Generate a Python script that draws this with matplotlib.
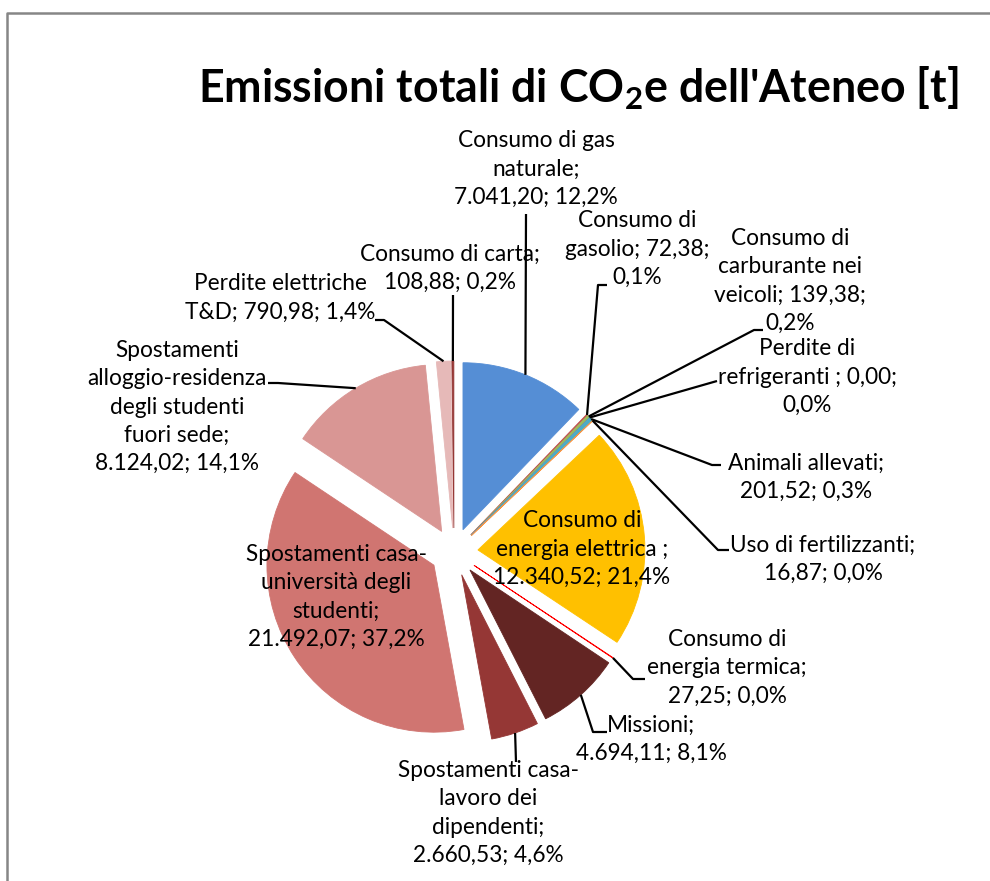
import re
import matplotlib
matplotlib.use('Agg')
import matplotlib.pyplot as plt
import numpy as np

plt.rcParams['font.family'] = ['Lato', 'DejaVu Sans']
plt.rcParams['mathtext.fontset'] = 'custom'
plt.rcParams['mathtext.rm'] = 'Lato'
plt.rcParams['mathtext.bf'] = 'Lato:bold'

W, H = 990, 881

# data
categories = ['Consumo di gas naturale', 'Consumo di gasolio',
              'Consumo di carburante nei veicoli', 'Perdite di refrigeranti ',
              'Animali allevati', 'Uso di fertilizzanti',
              'Consumo di energia elettrica ', 'Consumo di energia termica',
              'Missioni', 'Spostamenti casa-lavoro dei dipendenti',
              'Spostamenti casa-università degli studenti',
              'Spostamenti alloggio-residenza degli studenti fuori sede',
              'Perdite elettriche T&D', 'Consumo di carta']
values = [7041.20, 72.38, 139.38, 0.00, 201.52, 16.87, 12340.52, 27.25,
          4694.11, 2660.53, 21492.07, 8124.02, 790.98, 108.88]
colors = ['#558ED5', '#C0504D', '#9BBB59', '#8064A2', '#4BACC6', '#F79646',
          '#FFC000', '#FF0000', '#632523', '#953735', '#D07571', '#D99694',
          '#E6B9B8', '#953735']
title = "Emissioni totali di CO$_{\\mathbf{2}}$e dell'Ateneo [t]"

# layout (image pixel coords, y from top)
pie_center = (454, 552)
pie_radius = 167
explode_px = 24
tokens_per_line = [[3, 1, 2], [2, 2, 1], [2, 2, 2, 1], [2, 3, 1], [2, 2], [3, 2],
                   [2, 3, 2], [2, 2, 2], [1, 2], [2, 2, 1, 2], [2, 2, 1, 2],
                   [1, 2, 2, 2, 2], [2, 3], [3, 2]]
label_pos = [(536, 169), (637, 249), (790, 281), (807, 377), (806, 477),
             (823, 559), (582, 549), (727, 668), (651, 739), (488, 813),
             (336, 597), (177, 407), (280, 298), (450, 268)]
leaders = [[(526, 214)], [(598, 285), (607, 285)], [(754, 330), (763, 330)],
           [(717, 381)], [(712, 465), (721, 465)], [(718, 550), (729, 550)],
           None, [(633, 679), (645, 679)], [(593, 732), (607, 732)],
           [(516, 762)], None, [(278, 383), (268, 383)],
           [(384, 320), (375, 320)], [(453, 295)]]


def it_num(v):
    s = f"{v:,.2f}"
    return s.replace(',', 'X').replace('.', ',').replace('X', '.')


def make_label(name, v, total, counts):
    pct = f"{100 * v / total:.1f}".replace('.', ',') + '%'
    full = f"{name}; {it_num(v)}; {pct}"
    toks = re.findall(r'[^\s-]+-?', full)
    lines, k = [], 0
    for c in counts:
        line = ''
        for t in toks[k:k + c]:
            if line and not line.endswith('-'):
                line += ' '
            line += t
        lines.append(line)
        k += c
    return '\n'.join(lines)


fig = plt.figure(figsize=(W / 100, H / 100), dpi=100)
ax = fig.add_axes([0, 0, 1, 1])

wedges, _ = ax.pie(values, explode=[explode_px] * len(values), radius=pie_radius,
                   center=(pie_center[0], H - pie_center[1]), startangle=90,
                   counterclock=False, colors=colors,
                   wedgeprops=dict(linewidth=0.6))
for w in wedges:
    w.set_edgecolor(w.get_facecolor())

ax.set_xlim(0, W)
ax.set_ylim(0, H)
ax.set_aspect('equal')
ax.axis('off')

total = sum(values)
for i, w in enumerate(wedges):
    txt = make_label(categories[i], values[i], total, tokens_per_line[i])
    lx, ly = label_pos[i]
    ax.text(lx, H - ly, txt, ha='center', va='center', multialignment='center',
            fontsize=16.3, linespacing=1.42, color='black')
    if leaders[i] is not None:
        th = np.radians((w.theta1 + w.theta2) / 2)
        px = w.center[0] + w.r * np.cos(th)
        py = w.center[1] + w.r * np.sin(th)
        xs = [px] + [p[0] for p in leaders[i]]
        ys = [py] + [H - p[1] for p in leaders[i]]
        ax.plot(xs, ys, color='black', lw=1.6, solid_capstyle='butt')

ax.text(578, H - 103, title, ha='center', va='baseline', fontsize=32.1,
        fontweight='bold', color='black')

# chart area border
ax.plot([7, 7, W], [0, H - 13, H - 13], color='#868686', lw=1.8, clip_on=False)

fig.savefig('out.png', dpi=100)
